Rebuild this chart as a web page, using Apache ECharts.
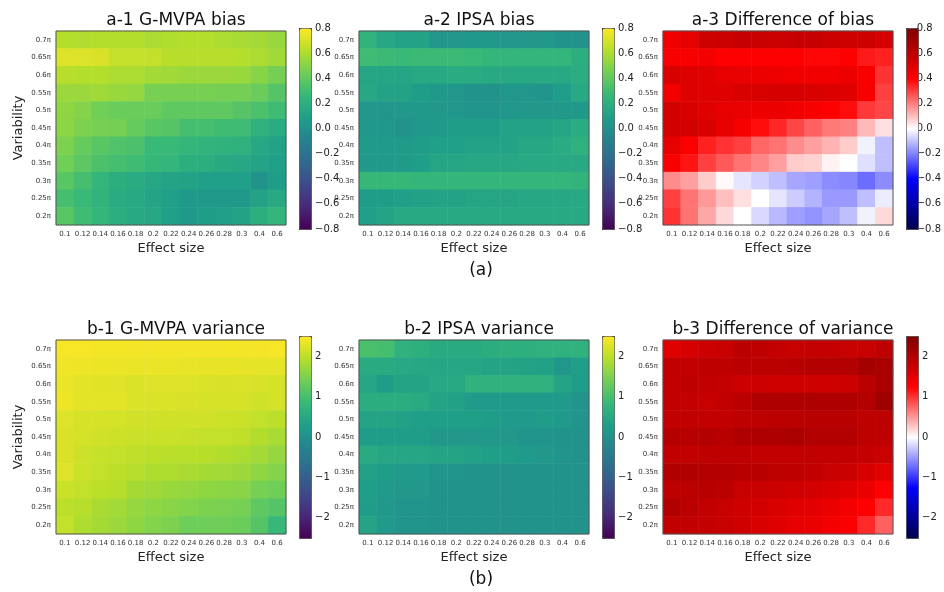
<!DOCTYPE html>
<html><head><meta charset="utf-8">
<script src="https://cdn.jsdelivr.net/npm/echarts@6/dist/echarts.min.js"></script>
<style>html,body{margin:0;padding:0;background:#fff}#c{width:944px;height:592px}</style>
</head><body><div id="c"></div>
<script>
const xCats = ['0.1','0.12','0.14','0.16','0.18','0.2','0.22','0.24','0.26','0.28','0.3','0.4','0.6'];
const yCats = ['0.2π','0.25π','0.3π','0.35π','0.4π','0.45π','0.5π','0.55π','0.6π','0.65π','0.7π'];
const titles = ['a-1 G-MVPA bias','a-2 IPSA bias','a-3 Difference of bias','b-1 G-MVPA variance','b-2 IPSA variance','b-3 Difference of variance'];
const panelLabels = ['(a)','(b)'];
const biasTicks = [-0.8,0.8];
const varTicks = [-2.5,2.5];

// rows listed from top (0.7π) to bottom (0.2π)
const a1 = [
[0.62,0.61,0.62,0.62,0.62,0.60,0.61,0.62,0.62,0.60,0.59,0.58,0.55],
[0.72,0.72,0.71,0.66,0.66,0.66,0.63,0.63,0.63,0.63,0.62,0.60,0.57],
[0.63,0.62,0.62,0.60,0.60,0.58,0.57,0.56,0.56,0.56,0.55,0.51,0.46],
[0.56,0.56,0.57,0.55,0.54,0.47,0.47,0.47,0.47,0.46,0.46,0.43,0.37],
[0.53,0.50,0.45,0.43,0.43,0.43,0.40,0.40,0.40,0.40,0.37,0.34,0.30],
[0.52,0.48,0.47,0.46,0.42,0.38,0.37,0.32,0.32,0.30,0.30,0.22,0.18],
[0.48,0.42,0.38,0.35,0.34,0.28,0.28,0.26,0.24,0.23,0.22,0.15,0.12],
[0.45,0.39,0.34,0.32,0.30,0.27,0.25,0.20,0.20,0.17,0.15,0.13,0.10],
[0.38,0.32,0.25,0.20,0.18,0.15,0.13,0.12,0.10,0.10,0.10,0.02,0.08],
[0.32,0.28,0.24,0.18,0.16,0.13,0.10,0.06,0.06,0.05,0.06,0.12,0.16],
[0.38,0.30,0.26,0.20,0.17,0.15,0.10,0.06,0.08,0.10,0.12,0.20,0.25]];
const a2 = [
[0.24,0.15,0.12,0.12,0.04,0.04,0.06,0.05,0.04,0.05,0.05,0.02,0.02],
[0.30,0.29,0.28,0.29,0.29,0.29,0.28,0.26,0.25,0.25,0.25,0.25,0.20],
[0.14,0.14,0.14,0.16,0.17,0.18,0.18,0.17,0.16,0.16,0.16,0.16,0.19],
[0.15,0.12,0.12,0.08,0.06,0.04,0.02,0.02,0.04,0.04,0.03,0.09,0.16],
[0.04,0.04,0.05,0.06,0.05,0.04,0.03,0.03,0.04,0.05,0.05,0.05,0.06],
[0.06,0.04,0.02,0.04,0.06,0.08,0.08,0.08,0.12,0.12,0.12,0.14,0.18],
[0.07,0.07,0.07,0.08,0.10,0.10,0.12,0.12,0.12,0.15,0.15,0.18,0.22],
[0.05,0.06,0.07,0.09,0.14,0.14,0.15,0.15,0.15,0.16,0.16,0.16,0.16],
[0.27,0.27,0.27,0.26,0.26,0.26,0.26,0.26,0.26,0.26,0.26,0.26,0.24],
[0.08,0.08,0.10,0.11,0.12,0.12,0.14,0.14,0.14,0.15,0.15,0.15,0.16],
[0.10,0.13,0.16,0.16,0.16,0.16,0.16,0.16,0.16,0.16,0.16,0.16,0.16]];
const a3 = [
[0.44,0.48,0.55,0.56,0.58,0.57,0.56,0.58,0.58,0.56,0.55,0.55,0.53],
[0.42,0.42,0.43,0.40,0.40,0.40,0.40,0.40,0.39,0.39,0.40,0.36,0.35],
[0.52,0.50,0.50,0.48,0.47,0.46,0.45,0.44,0.44,0.44,0.46,0.42,0.32],
[0.44,0.50,0.50,0.50,0.52,0.52,0.53,0.53,0.52,0.51,0.50,0.42,0.30],
[0.54,0.52,0.50,0.48,0.47,0.46,0.46,0.44,0.42,0.40,0.38,0.31,0.29],
[0.54,0.54,0.52,0.48,0.42,0.38,0.34,0.29,0.25,0.21,0.20,0.11,0.05],
[0.48,0.41,0.35,0.32,0.30,0.24,0.22,0.18,0.15,0.12,0.08,-0.02,-0.10],
[0.42,0.37,0.30,0.26,0.22,0.19,0.15,0.08,0.07,0.02,0.00,-0.05,-0.10],
[0.18,0.15,0.08,0.01,-0.04,-0.07,-0.10,-0.14,-0.15,-0.18,-0.19,-0.23,-0.18],
[0.30,0.22,0.16,0.10,0.05,0.00,-0.04,-0.08,-0.12,-0.16,-0.16,-0.10,-0.03],
[0.32,0.22,0.14,0.06,0.00,-0.06,-0.11,-0.15,-0.17,-0.14,-0.10,-0.02,0.06]];
const b1 = [
[2.45,2.45,2.43,2.42,2.42,2.42,2.42,2.42,2.42,2.42,2.43,2.43,2.45],
[2.40,2.38,2.37,2.36,2.35,2.35,2.35,2.34,2.33,2.33,2.33,2.32,2.32],
[2.35,2.30,2.28,2.28,2.24,2.25,2.25,2.25,2.24,2.22,2.23,2.22,2.20],
[2.38,2.30,2.30,2.30,2.24,2.24,2.24,2.22,2.20,2.18,2.20,2.15,2.18],
[2.25,2.20,2.20,2.18,2.16,2.15,2.15,2.15,2.15,2.12,2.10,2.05,2.00],
[2.22,2.18,2.16,2.14,2.10,2.10,2.10,2.08,2.05,2.05,2.02,1.92,1.85],
[2.22,2.12,2.08,2.05,2.02,2.00,1.98,1.98,1.95,1.92,1.88,1.80,1.70],
[2.25,2.12,2.05,2.00,1.95,1.90,1.90,1.85,1.82,1.80,1.75,1.65,1.55],
[2.10,2.05,2.00,1.95,1.82,1.78,1.72,1.70,1.65,1.62,1.60,1.45,1.40],
[2.00,1.95,1.85,1.80,1.70,1.65,1.60,1.55,1.50,1.48,1.45,1.25,1.15],
[2.05,1.90,1.82,1.75,1.65,1.55,1.50,1.38,1.40,1.40,1.35,1.15,0.85]];
const b2 = [
[1.05,1.00,0.70,0.65,0.55,0.55,0.55,0.60,0.65,0.65,0.70,0.70,0.70],
[0.55,0.55,0.50,0.48,0.45,0.45,0.45,0.40,0.40,0.38,0.35,0.12,0.30],
[0.45,0.25,0.42,0.42,0.50,0.50,0.70,0.70,0.70,0.70,0.70,0.40,0.25],
[0.60,0.60,0.60,0.55,0.40,0.35,0.20,0.20,0.20,0.20,0.20,0.20,0.10],
[0.40,0.40,0.35,0.30,0.30,0.30,0.30,0.25,0.20,0.20,0.25,0.20,0.10],
[0.25,0.25,0.25,0.25,0.15,0.15,0.15,0.15,0.15,0.10,0.10,0.05,0.05],
[0.55,0.45,0.45,0.45,0.40,0.40,0.35,0.30,0.25,0.20,0.15,0.10,0.05],
[0.35,0.25,0.20,0.20,0.10,0.10,0.05,0.05,0.05,0.05,0.05,0.05,0.05],
[0.30,0.20,0.15,0.15,0.05,0.05,0.05,0.05,0.05,0.05,0.05,0.05,0.05],
[0.25,0.15,0.10,0.10,0.05,0.05,0.05,0.05,0.05,0.05,0.05,0.05,0.05],
[0.40,0.20,0.10,0.10,0.05,0.05,0.05,0.05,0.05,0.05,0.05,0.05,0.05]];
const b3 = [
[1.55,1.65,1.75,1.78,1.92,1.88,1.82,1.80,1.82,1.82,1.80,1.80,1.88],
[1.85,1.85,1.88,1.90,1.92,1.92,1.92,1.95,1.98,1.98,2.00,2.15,2.10],
[1.85,1.88,1.85,1.82,1.75,1.75,1.72,1.72,1.72,1.72,1.75,1.92,2.10],
[1.85,1.82,1.80,1.85,1.92,2.05,2.05,2.05,2.05,2.05,2.05,2.00,2.20],
[1.85,1.85,1.85,1.85,1.90,1.90,1.92,1.92,1.95,1.95,1.95,1.90,1.90],
[1.98,1.95,2.00,1.95,2.05,2.05,2.05,2.08,2.00,2.00,2.00,1.90,1.88],
[1.85,1.85,1.88,1.88,1.88,1.85,1.85,1.85,1.85,1.85,1.85,1.82,1.78],
[2.02,2.02,1.98,1.98,1.95,1.95,1.90,1.88,1.85,1.80,1.78,1.65,1.55],
[1.90,1.92,1.95,1.92,1.80,1.78,1.75,1.70,1.68,1.62,1.55,1.45,1.25],
[2.02,1.92,1.85,1.80,1.72,1.68,1.62,1.55,1.52,1.45,1.35,1.25,1.05],
[1.85,1.85,1.82,1.78,1.70,1.62,1.55,1.48,1.45,1.35,1.30,1.05,0.78]];

const viridis = ['#440154','#482878','#3e4989','#31688e','#26828e','#1f9e89','#35b779','#6ece58','#b5de2b','#fde725'];
const seismic = ['#00004c','#0000ff','#ffffff','#ff0000','#800000'];
const FONT = 'DejaVu Sans';
const mats = [a1,a2,a3,b1,b2,b3];

const plotLeft = [56,359,663];
const plotTop = [31,340];
const plotW = 230, plotH = 194;
const cbLeft = [299,602,906];

function toData(m){
  const out = [];
  for (let r=0;r<m.length;r++) for (let c=0;c<m[r].length;c++) out.push([c, m.length-1-r, m[r][c]]);
  return out;
}
function fmtNum(v, dec){ return (v<0?'\u2212':'') + Math.abs(v).toFixed(dec); }

const grid=[], xAxis=[], yAxis=[], series=[], visualMap=[], title=[];
for (let i=0;i<6;i++){
  const row = Math.floor(i/3), col = i%3;
  const isBias = row===0;
  const rng = isBias ? biasTicks : varTicks;
  grid.push({left:plotLeft[col], top:plotTop[row], width:plotW, height:plotH, show:true, z:5,
    borderColor:'#555', borderWidth:1, backgroundColor:'rgba(0,0,0,0)'});
  xAxis.push({type:'category', gridIndex:i, data:xCats, position:'bottom',
    name: 'Effect size', nameLocation:'middle', nameGap:17,
    nameTextStyle:{fontFamily:FONT, fontSize:13, color:'#222'},
    axisLine:{show:false}, axisTick:{alignWithLabel:true, length:3, lineStyle:{color:'#333'}},
    axisLabel:{fontFamily:FONT, fontSize:7, color:'#333', margin:6, interval:0}, splitLine:{show:false}});
  yAxis.push({type:'category', gridIndex:i, data:yCats,
    name: col===0 ? 'Variability' : '', nameLocation:'middle', nameGap:31, nameRotate:90,
    nameTextStyle:{fontFamily:FONT, fontSize:13, color:'#222'},
    axisLine:{show:false}, axisTick:{alignWithLabel:true, length:3, lineStyle:{color:'#333'}},
    axisLabel:{fontFamily:FONT, fontSize:7, color:'#333', margin:5, interval:0}, splitLine:{show:false}});
  series.push({type:'heatmap', xAxisIndex:i, yAxisIndex:i, data:toData(mats[i]),
    emphasis:{disabled:true}, progressive:0});
  const colors = (col===2) ? seismic : viridis;
  visualMap.push({type:'continuous', seriesIndex:i, min:rng[0], max:rng[1], calculable:false,
    inRange:{color:colors}, orient:'vertical', left:cbLeft[col],
    top: isBias ? 28 : 336, itemWidth:12, itemHeight: isBias ? 201 : 202, padding:0,
    borderColor:'#444', borderWidth:1, hoverLink:false, text:null, showLabel:false});
  title.push({text:titles[i], left: plotLeft[col]+plotW/2, top: plotTop[row]-24, textAlign:'center',
    textStyle:{fontFamily:FONT, fontSize:17, fontWeight:'normal', color:'#111'}});
}
// colorbar tick axes
for (let col=0; col<3; col++){
  for (let row=0; row<2; row++){
    const gi = grid.length;
    if (row===0){
      grid.push({left:cbLeft[col], top:28, width:12, height:201, show:false});
      yAxis.push({type:'value', gridIndex:gi, position:'right', min:-0.8, max:0.8, interval:0.2,
        axisLine:{show:false}, splitLine:{show:false},
        axisTick:{show:true, length:4, lineStyle:{color:'#333'}},
        axisLabel:{fontFamily:FONT, fontSize:10, color:'#222', margin:4, formatter:v=>fmtNum(v,1)}});
    } else {
      grid.push({left:cbLeft[col], top:356.2, width:12, height:161.6, show:false});
      yAxis.push({type:'value', gridIndex:gi, position:'right', min:-2, max:2, interval:1,
        axisLine:{show:false}, splitLine:{show:false},
        axisTick:{show:true, length:4, lineStyle:{color:'#333'}},
        axisLabel:{fontFamily:FONT, fontSize:10, color:'#222', margin:4, formatter:v=>fmtNum(v,0)}});
    }
    xAxis.push({type:'value', gridIndex:gi, show:false});
  }
}
title.push({text:panelLabels[0], left:476, top:257, textAlign:'center', textStyle:{fontFamily:FONT, fontSize:17, fontWeight:'normal', color:'#111'}});
title.push({text:panelLabels[1], left:476, top:566, textAlign:'center', textStyle:{fontFamily:FONT, fontSize:17, fontWeight:'normal', color:'#111'}});

const chart = echarts.init(document.getElementById('c'), null, {renderer:'canvas'});
chart.setOption({animation:false, backgroundColor:'#fff', title, grid, xAxis, yAxis, series, visualMap});
</script></body></html>
